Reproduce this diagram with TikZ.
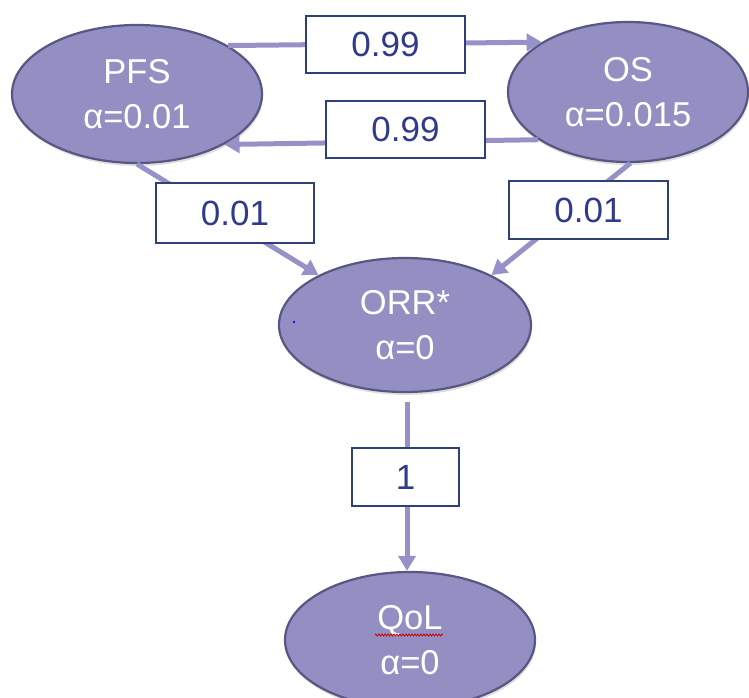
\documentclass[tikz,border=0pt]{standalone}
\usepackage{fontspec}
\setmainfont{Liberation Sans}
\usetikzlibrary{arrows.meta,shapes.geometric,shadows,decorations.pathmorphing}
\definecolor{ellfill}{RGB}{148,143,195}
\definecolor{ellborder}{RGB}{88,86,130}
\definecolor{arrowcol}{RGB}{150,146,200}
\definecolor{labtext}{RGB}{48,58,138}
\definecolor{labborder}{RGB}{45,65,120}
\definecolor{dotblue}{RGB}{20,20,230}
\tikzset{
  state/.style={ellipse, draw=ellborder, line width=2.2pt, fill=ellfill,
    text=white, align=center, inner sep=0pt,
    font=\fontsize{34.5}{45}\selectfont,
    drop shadow={opacity=0.25, shadow xshift=1pt, shadow yshift=-3pt}},
  weight/.style={rectangle, draw=labborder, line width=1.2pt, fill=white,
    text=labtext, inner sep=0pt, font=\fontsize{35}{40}\selectfont},
  link/.style={draw=arrowcol, line width=5pt,
    -{Triangle[length=15pt,width=17pt]}}
}
\begin{document}
\begin{tikzpicture}[x=1pt,y=-1pt]
\useasboundingbox (0,0) rectangle (749,698);
% states
\node[state, minimum width=250pt, minimum height=138pt] (PFS) at (137,94) {PFS\\α=0.01};
\node[state, minimum width=240pt, minimum height=140pt] (OS) at (628,92) {OS\\α=0.015};
\node[state, minimum width=252pt, minimum height=134pt] (ORR) at (405,325) {ORR*\\α=0};
\node[state, minimum width=250pt, minimum height=136pt] (QoL) at (410,640) {QoL\\α=0};
% connectors
\draw[link] (PFS.28) -- (OS.150);
\draw[link] (OS.208) -- (PFS.330);
\draw[link] (PFS.-90) -- (ORR.150);
\draw[link] (OS.-88) -- (ORR.30);
\draw[link, shorten <=9pt] ([xshift=2pt]ORR.south) -- ([xshift=-3pt]QoL.north);
% weights
\node[weight, minimum width=159pt, minimum height=57pt] (w1) at (385.5,44.5) {0.99};
\node[weight, minimum width=159pt, minimum height=57pt] (w2) at (405.5,129.5) {0.99};
\node[weight, minimum width=158pt, minimum height=60pt] (w3) at (235,213) {0.01};
\node[weight, minimum width=159pt, minimum height=58pt] (w4) at (588.5,210) {0.01};
\node[weight, minimum width=107pt, minimum height=58pt] (w5) at (405.5,477) {1};
% stray dot and spell-check underline
\fill[dotblue] (294,322) circle (1.3pt);
\coordinate (sqA) at (375,635);
\coordinate (sqB) at (443,635);
\draw[red!80!black, line width=0.8pt, decorate,
  decoration={snake, amplitude=1pt, segment length=3pt}] (sqA) -- (sqB);
\end{tikzpicture}
\end{document}
